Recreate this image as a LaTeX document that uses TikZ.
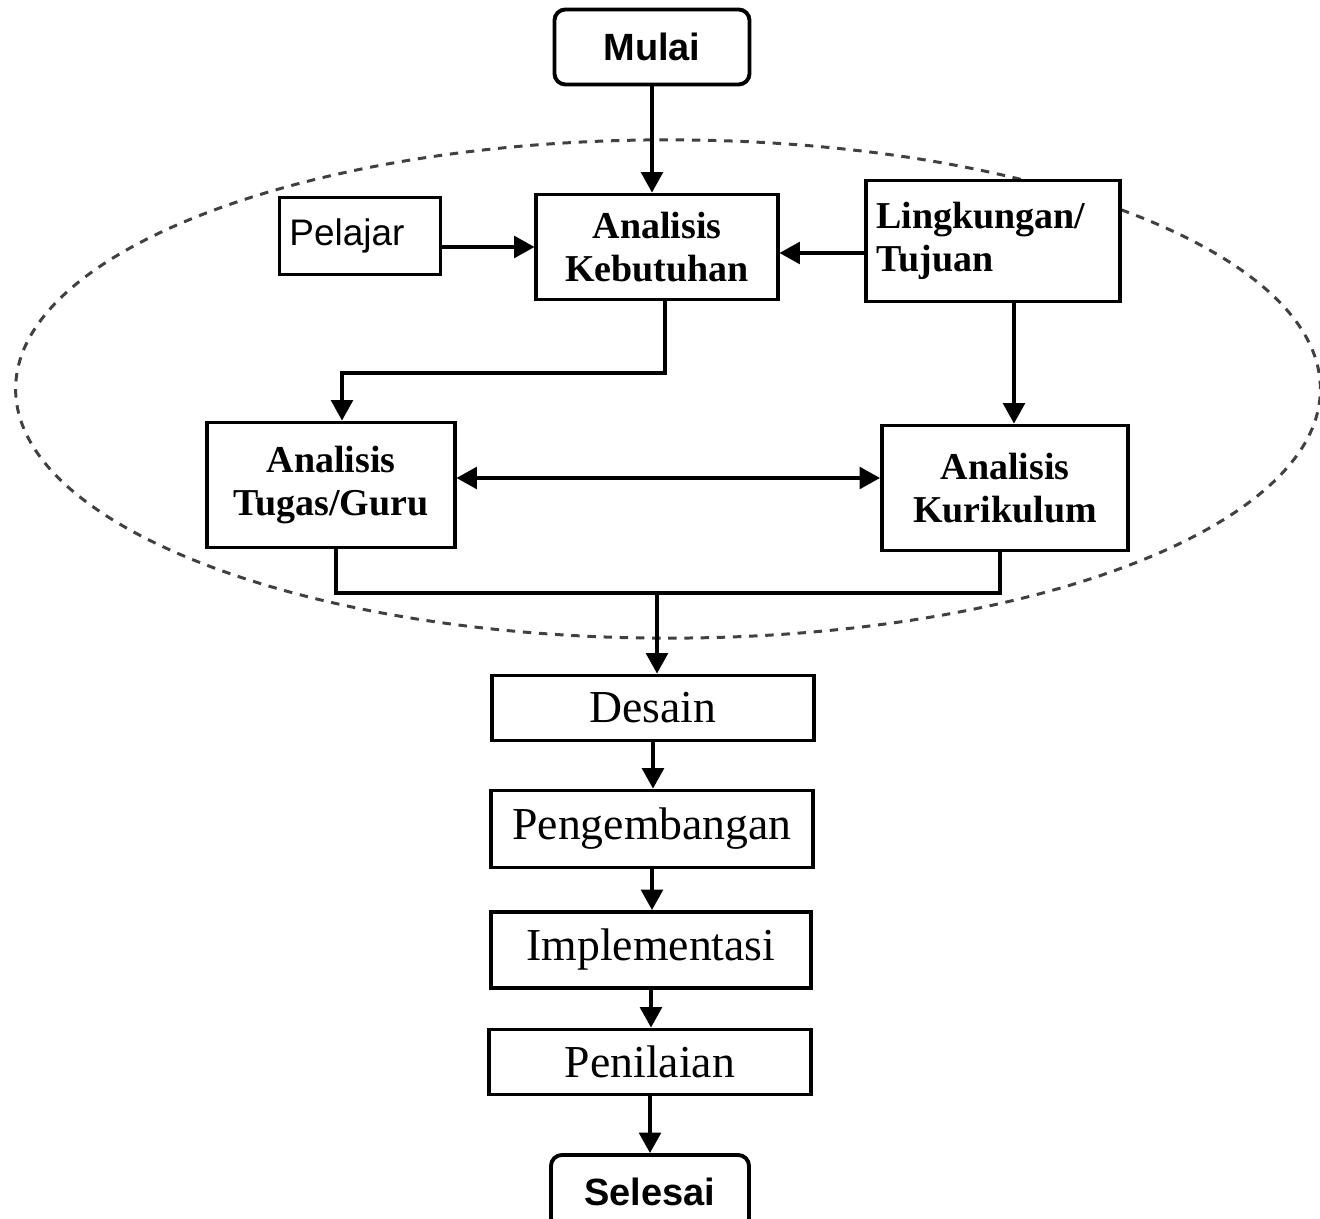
\documentclass[tikz,border=0pt]{standalone}
\usepackage{fontspec}
\setmainfont{Liberation Serif}
\newfontfamily\arialfont{Liberation Sans}
\usetikzlibrary{arrows.meta}
\begin{document}
\begin{tikzpicture}[x=0.01cm,y=-0.01cm,
  boxnode/.style={draw=black,line width=1.1pt,fill=white,inner sep=0pt},
  termnode/.style={boxnode,rounded corners=0.11cm,font=\arialfont\bfseries\fontsize{10.8pt}{12pt}\selectfont},
  boldbox/.style={boxnode,align=center,font=\bfseries\fontsize{10.8pt}{12.2pt}\selectfont},
  stagebox/.style={boxnode,font=\fontsize{13pt}{15pt}\selectfont},
  conn/.style={line width=0.9pt,-{Triangle[length=5.8pt,width=6.2pt]}},
  plain/.style={line width=0.9pt},
  ring/.style={draw=black!75,line width=0.85pt,dash pattern=on 2.4pt off 2.2pt}]
\useasboundingbox (0,0) rectangle (1320,1219);
\clip (0,0) rectangle (1320,1219);
% dashed ellipse
\draw[ring] (668,389) ellipse [x radius=6.52cm, y radius=2.49cm];
% nodes
\node[termnode,minimum width=1.95cm,minimum height=0.75cm] (mulai) at (652,47) {Mulai};
\node[boxnode,minimum width=1.61cm,minimum height=0.77cm,align=left,text width=1.41cm,
      font=\arialfont\fontsize{10.5pt}{12pt}\selectfont] (pelajar) at (360,236) {Pelajar\\[0.18cm]};
\node[boldbox,minimum width=2.41cm,minimum height=1.05cm] (ak) at (657,247) {Analisis\\Kebutuhan};
\node[boxnode,minimum width=2.53cm,minimum height=1.21cm,align=left,text width=2.33cm,
      font=\bfseries\fontsize{10.8pt}{12.2pt}\selectfont] (ling) at (993,241) {Lingkungan/\\Tujuan};
\node[boldbox,minimum width=2.47cm,minimum height=1.25cm] (tugas) at (331,485) {Analisis\\Tugas/Guru};
\node[boldbox,minimum width=2.46cm,minimum height=1.25cm] (kur) at (1005,488) {Analisis\\Kurikulum};
\node[stagebox,minimum width=3.22cm,minimum height=0.65cm] (desain) at (653,708) {Desain};
\node[stagebox,minimum width=3.21cm,minimum height=0.77cm] (peng) at (652,829) {Pengembangan};
\node[stagebox,minimum width=3.20cm,minimum height=0.76cm] (impl) at (651,950) {Implementasi};
\node[stagebox,minimum width=3.21cm,minimum height=0.65cm] (pen) at (650,1062) {Penilaian};
\node[termnode,minimum width=1.98cm,minimum height=0.74cm] (selesai) at (650,1192) {Selesai};
% helper coordinates
\coordinate (lkY) at (0,253);
\coordinate (j1) at (665,373);
\coordinate (j2) at (342,373);
\coordinate (x1) at (1014,0);
\coordinate (y2) at (0,478);
\coordinate (m1) at (336,593);
\coordinate (m2) at (1000,593);
\coordinate (m3) at (657,593);
% connectors
\draw[conn] (mulai.south) -- (mulai.south |- ak.north);
\draw[conn] (pelajar.east |- ak.center) -- (ak.west);
\draw[conn] (ling.west |- lkY) -- (ak.east |- lkY);
\draw[conn] (j1 |- ak.south) -- (j1) -- (j2) -- (j2 |- tugas.north);
\draw[conn] (x1 |- ling.south) -- (x1 |- kur.north);
\draw[line width=0.9pt,{Triangle[length=5.8pt,width=6.2pt]}-{Triangle[length=5.8pt,width=6.2pt]}] (tugas.east |- y2) -- (kur.west |- y2);
\draw[plain] (m1 |- tugas.south) -- (m1) -- (m2) -- (m2 |- kur.south);
\draw[conn] (m3) -- (m3 |- desain.north);
\draw[conn] (desain.south) -- (desain.south |- peng.north);
\draw[conn] (peng.south) -- (peng.south |- impl.north);
\draw[conn] (impl.south) -- (impl.south |- pen.north);
\draw[conn] (pen.south) -- (pen.south |- selesai.north);
\end{tikzpicture}
\end{document}
